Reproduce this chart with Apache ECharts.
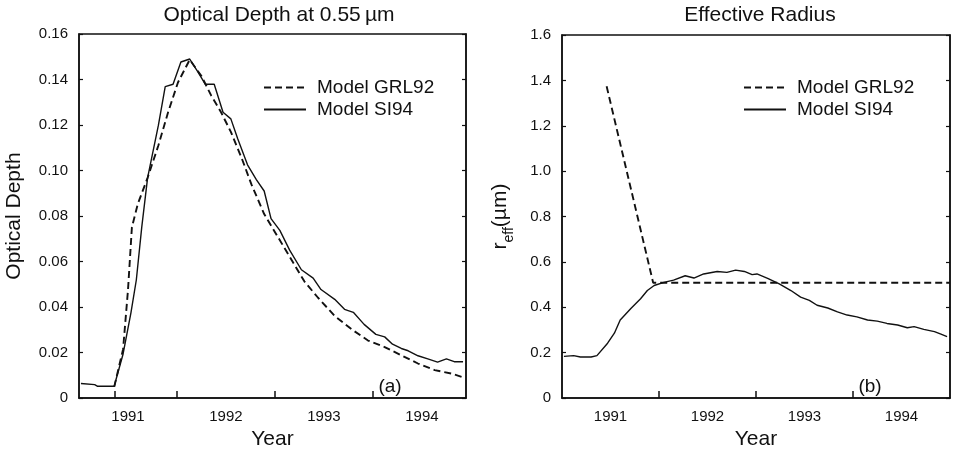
<!DOCTYPE html>
<html>
<head>
<meta charset="utf-8">
<script src="https://cdn.jsdelivr.net/npm/echarts@6/dist/echarts.min.js"></script>
<style>
  html, body { margin: 0; padding: 0; background: #fff; }
  #chart { width: 954px; height: 455px; }
</style>
</head>
<body>
<div id="chart"></div>
<script>
// panel (a): optical depth at 0.55 um
const depthYearsSI94 = [1991.02, 1991.16, 1991.19, 1991.36, 1991.38, 1991.45, 1991.53, 1991.585, 1991.64, 1991.70,
  1991.81, 1991.88, 1991.96, 1992.04, 1992.13, 1992.21, 1992.29, 1992.38, 1992.47, 1992.55,
  1992.62, 1992.72, 1992.81, 1992.89, 1992.96, 1993.05, 1993.15, 1993.27, 1993.39, 1993.47,
  1993.61, 1993.71, 1993.80, 1993.91, 1994.03, 1994.12, 1994.20, 1994.29, 1994.36, 1994.46,
  1994.56, 1994.66, 1994.75, 1994.83, 1994.92];
const depthSI94 = [0.0064, 0.0059, 0.0052, 0.0052, 0.0085, 0.0194, 0.0375, 0.0519, 0.0749, 0.0968,
  0.1198, 0.1369, 0.1379, 0.1477, 0.1490, 0.1436, 0.1379, 0.1379, 0.1256, 0.1227,
  0.1140, 0.1025, 0.0960, 0.0910, 0.0789, 0.0737, 0.0650, 0.0564, 0.0527, 0.0477,
  0.0434, 0.0390, 0.0377, 0.0324, 0.0280, 0.0269, 0.0237, 0.0218, 0.0208, 0.0186,
  0.0172, 0.0158, 0.0172, 0.0160, 0.0160];
const depthYearsGRL92 = [1991.36, 1991.45, 1991.50, 1991.54, 1991.60, 1991.70, 1991.81, 1991.91, 1992.01, 1992.13,
  1992.25, 1992.35, 1992.45, 1992.55, 1992.66, 1992.76, 1992.89, 1993.03, 1993.17, 1993.30,
  1993.44, 1993.61, 1993.78, 1993.95, 1994.12, 1994.29, 1994.46, 1994.63, 1994.80, 1994.94];
const depthGRL92 = [0.0050, 0.0215, 0.0475, 0.0751, 0.0853, 0.0968, 0.1110, 0.1257, 0.1387, 0.1487,
  0.1415, 0.1329, 0.1256, 0.1170, 0.1055, 0.0939, 0.0809, 0.0708, 0.0607, 0.0513,
  0.0441, 0.0361, 0.0303, 0.0253, 0.0224, 0.0188, 0.0152, 0.0123, 0.0108, 0.0088];

// panel (b): effective radius
const radiusYearsSI94 = [1991.02, 1991.12, 1991.19, 1991.30, 1991.36, 1991.47, 1991.54, 1991.60, 1991.71, 1991.81,
  1991.88, 1991.95, 1992.05, 1992.15, 1992.27, 1992.36, 1992.46, 1992.60, 1992.70, 1992.79,
  1992.88, 1992.96, 1993.01, 1993.12, 1993.24, 1993.36, 1993.46, 1993.55, 1993.63, 1993.74,
  1993.84, 1993.94, 1994.04, 1994.15, 1994.25, 1994.35, 1994.46, 1994.56, 1994.63, 1994.73,
  1994.84, 1994.90, 1994.97];
const radiusSI94 = [0.184, 0.187, 0.181, 0.181, 0.187, 0.242, 0.286, 0.344, 0.395, 0.438,
  0.474, 0.496, 0.510, 0.520, 0.539, 0.529, 0.547, 0.558, 0.554, 0.564,
  0.558, 0.544, 0.547, 0.528, 0.503, 0.474, 0.445, 0.431, 0.409, 0.397,
  0.380, 0.366, 0.358, 0.344, 0.339, 0.329, 0.322, 0.310, 0.315, 0.303,
  0.293, 0.283, 0.271];
const radiusYearsGRL92 = [1991.46, 1991.94, 1995.0];
const radiusGRL92 = [1.374, 0.508, 0.508];

const yearLabelsAt = [1991.5, 1992.5, 1993.5, 1994.5];
const yearTicksA = [1991.36, 1992, 1993, 1994];
const yearTicksB = [1992, 1993, 1994];

const FONT = "'Liberation Sans', Arial, Helvetica, sans-serif";
const INK = '#111';

const pairs = (xs, ys) => xs.map((x, i) => [x, ys[i]]);

function xAxisFor(gridIndex, max, ticks) {
  return {
    type: 'value', gridIndex, min: 1991, max,
    name: 'Year', nameLocation: 'middle', nameGap: 27,
    nameTextStyle: { fontFamily: FONT, fontSize: 21, color: INK },
    axisLine: { lineStyle: { color: INK, width: 1.5 } },
    axisTick: { inside: true, length: 7, customValues: ticks, lineStyle: { color: INK, width: 1.5 } },
    axisLabel: {
      customValues: yearLabelsAt, margin: 11,
      fontFamily: FONT, fontSize: 15, color: INK,
      formatter: (v) => String(Math.floor(v))
    },
    splitLine: { show: false }
  };
}

function yAxisPair(gridIndex, max, interval, digits, name, nameGap, rich) {
  const left = {
    type: 'value', gridIndex, min: 0, max, interval,
    name, nameLocation: 'middle', nameGap,
    nameTextStyle: Object.assign({ fontFamily: FONT, fontSize: 21, color: INK }, rich ? { rich } : {}),
    axisLine: { show: true, lineStyle: { color: INK, width: 1.5 } },
    axisTick: { inside: true, length: 4, lineStyle: { color: INK, width: 1.2 } },
    axisLabel: {
      margin: 11, fontFamily: FONT, fontSize: 15, color: INK,
      formatter: (v) => (v === 0 ? '0' : v.toFixed(digits))
    },
    splitLine: { show: false }
  };
  const right = {
    type: 'value', gridIndex, min: 0, max, interval, position: 'right',
    axisLine: { show: true, lineStyle: { color: INK, width: 1.5 } },
    axisTick: { inside: true, length: 4, lineStyle: { color: INK, width: 1.2 } },
    axisLabel: { show: false },
    splitLine: { show: false }
  };
  return [left, right];
}

function legendAt(left) {
  return {
    left, top: 78, orient: 'vertical', padding: 0,
    itemWidth: 42, itemHeight: 12, itemGap: 3,
    data: ['Model GRL92', 'Model SI94'],
    itemStyle: { color: 'transparent', borderColor: 'transparent', borderWidth: 0 },
    textStyle: { fontFamily: FONT, fontSize: 19, color: INK, padding: [0, 0, 0, 6] }
  };
}

const dashed = { color: INK, width: 1.9, type: [7, 4] };
const solid = { color: INK, width: 1.4 };

const chart = echarts.init(document.getElementById('chart'), null, { renderer: 'canvas' });
chart.setOption({
  animation: false,
  backgroundColor: '#fff',
  grid: [
    { left: 79, top: 34, width: 387, height: 369, show: true, borderColor: INK, borderWidth: 1.5, backgroundColor: 'transparent' },
    { left: 562, top: 35, width: 388, height: 367, show: true, borderColor: INK, borderWidth: 1.5, backgroundColor: 'transparent' }
  ],
  xAxis: [xAxisFor(0, 1994.95, yearTicksA), xAxisFor(1, 1995, yearTicksB)],
  yAxis: [
    ...yAxisPair(0, 0.16, 0.02, 2, 'Optical Depth', 54),
    ...yAxisPair(1, 1.6, 0.2, 1, '{m|r}{s|eff}{m|(µm)}', 46, {
      m: { fontFamily: FONT, fontSize: 21, color: INK, lineHeight: 26, verticalAlign: 'top' },
      s: { fontFamily: FONT, fontSize: 14, color: INK, lineHeight: 14, verticalAlign: 'bottom' }
    })
  ],
  legend: [legendAt(263), legendAt(743)],
  graphic: [
    { type: 'text', x: 279, y: 15, style: { text: 'Optical Depth at 0.55\u2009µm', font: '21px ' + FONT, fill: INK, textAlign: 'center', textVerticalAlign: 'middle' } },
    { type: 'text', x: 760, y: 15, style: { text: 'Effective Radius', font: '21px ' + FONT, fill: INK, textAlign: 'center', textVerticalAlign: 'middle' } },
    { type: 'text', x: 390, y: 387, style: { text: '(a)', font: '19px ' + FONT, fill: INK, textAlign: 'center', textVerticalAlign: 'middle' } },
    { type: 'text', x: 870, y: 387, style: { text: '(b)', font: '19px ' + FONT, fill: INK, textAlign: 'center', textVerticalAlign: 'middle' } }
  ],
  series: [
    { name: 'Model GRL92', type: 'line', xAxisIndex: 0, yAxisIndex: 0, data: pairs(depthYearsGRL92, depthGRL92), showSymbol: false, symbol: 'none', lineStyle: dashed, itemStyle: { color: INK } },
    { name: 'Model SI94', type: 'line', xAxisIndex: 0, yAxisIndex: 0, data: pairs(depthYearsSI94, depthSI94), showSymbol: false, symbol: 'none', lineStyle: solid, itemStyle: { color: INK } },
    { name: 'Model GRL92', type: 'line', xAxisIndex: 1, yAxisIndex: 2, data: pairs(radiusYearsGRL92, radiusGRL92), showSymbol: false, symbol: 'none', lineStyle: dashed, itemStyle: { color: INK } },
    { name: 'Model SI94', type: 'line', xAxisIndex: 1, yAxisIndex: 2, data: pairs(radiusYearsSI94, radiusSI94), showSymbol: false, symbol: 'none', lineStyle: solid, itemStyle: { color: INK } }
  ]
});
</script>
</body>
</html>
